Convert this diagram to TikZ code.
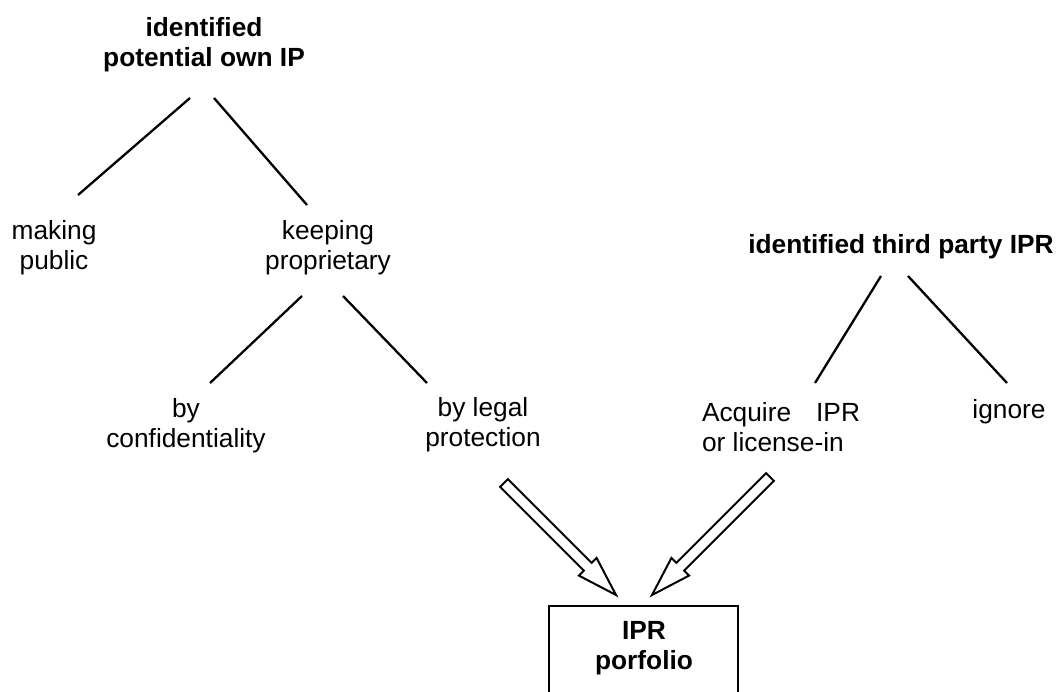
\documentclass[tikz,border=0pt]{standalone}
\usepackage{fontspec}
\setmainfont{Liberation Sans}
\usetikzlibrary{calc}
\tikzset{
  lbl/.style={inner sep=0pt, outer sep=0pt, align=center, font=\fontsize{26.3}{30}\selectfont},
  blbl/.style={lbl, font=\fontsize{26.3}{30}\selectfont\bfseries},
  branch/.style={line width=2.3pt},
  fatarrow/.style={line width=2pt, fill=white, line join=miter},
  pbox/.style={line width=2.4pt}
}
\newcommand{\fatarrow}[2]{%
  \draw[fatarrow]
    ($(#1)!5.5pt!90:(#2)$) --
    ($($(#2)!40pt!(#1)$)!5.5pt!-90:(#1)$) --
    ($($(#2)!40pt!(#1)$)!12.5pt!-90:(#1)$) --
    (#2) --
    ($($(#2)!40pt!(#1)$)!12.5pt!90:(#1)$) --
    ($($(#2)!40pt!(#1)$)!5.5pt!90:(#1)$) --
    ($(#1)!5.5pt!-90:(#2)$) -- cycle;}
\begin{document}
\begin{tikzpicture}[x=1pt,y=-1pt]
\useasboundingbox (0,0) rectangle (1063,691);
% texts
\node[blbl] (own) at (204,44.5) {identified\\potential own IP};
\node[lbl] (making) at (54,247.5) {making\\public};
\node[lbl] (keeping) at (328,248) {keeping\\proprietary};
\node[lbl] (conf) at (186,426) {by\\confidentiality};
\node[lbl] (legal) at (483,425) {by legal\\protection};
\node[blbl, anchor=base] (third) at (901,253) {identified third party IPR};
\node[lbl, align=left, anchor=west] (acq) at (702,427) {Acquire\hspace{25pt}IPR\\or license-in};
\node[lbl, anchor=base] (ignore) at (1009,418) {ignore};
% box
\coordinate (boxtl) at (549,606);
\coordinate (boxbr) at (738,710);
\draw[pbox] (boxtl) rectangle (boxbr);
\node[blbl] (port) at (644,648) {IPR\\porfolio};
% branch end points
\coordinate (o1) at (190,98);  \coordinate (m1) at (78,195);
\coordinate (o2) at (214,98);  \coordinate (k1) at (307,205);
\coordinate (k2) at (302,296); \coordinate (c1) at (210,383);
\coordinate (k3) at (343,296); \coordinate (l1) at (427,383);
\coordinate (t1) at (881,276); \coordinate (a1) at (815,383);
\coordinate (t2) at (908,276); \coordinate (i1) at (1007,383);
\draw[branch] (o1) -- (m1);
\draw[branch] (o2) -- (k1);
\draw[branch] (k2) -- (c1);
\draw[branch] (k3) -- (l1);
\draw[branch] (t1) -- (a1);
\draw[branch] (t2) -- (i1);
% fat arrows
\coordinate (lt) at (504,483); \coordinate (lh) at (616,595);
\coordinate (rt) at (770,477); \coordinate (rh) at (652,595);
\fatarrow{lt}{lh}
\fatarrow{rt}{rh}
\end{tikzpicture}
\end{document}
